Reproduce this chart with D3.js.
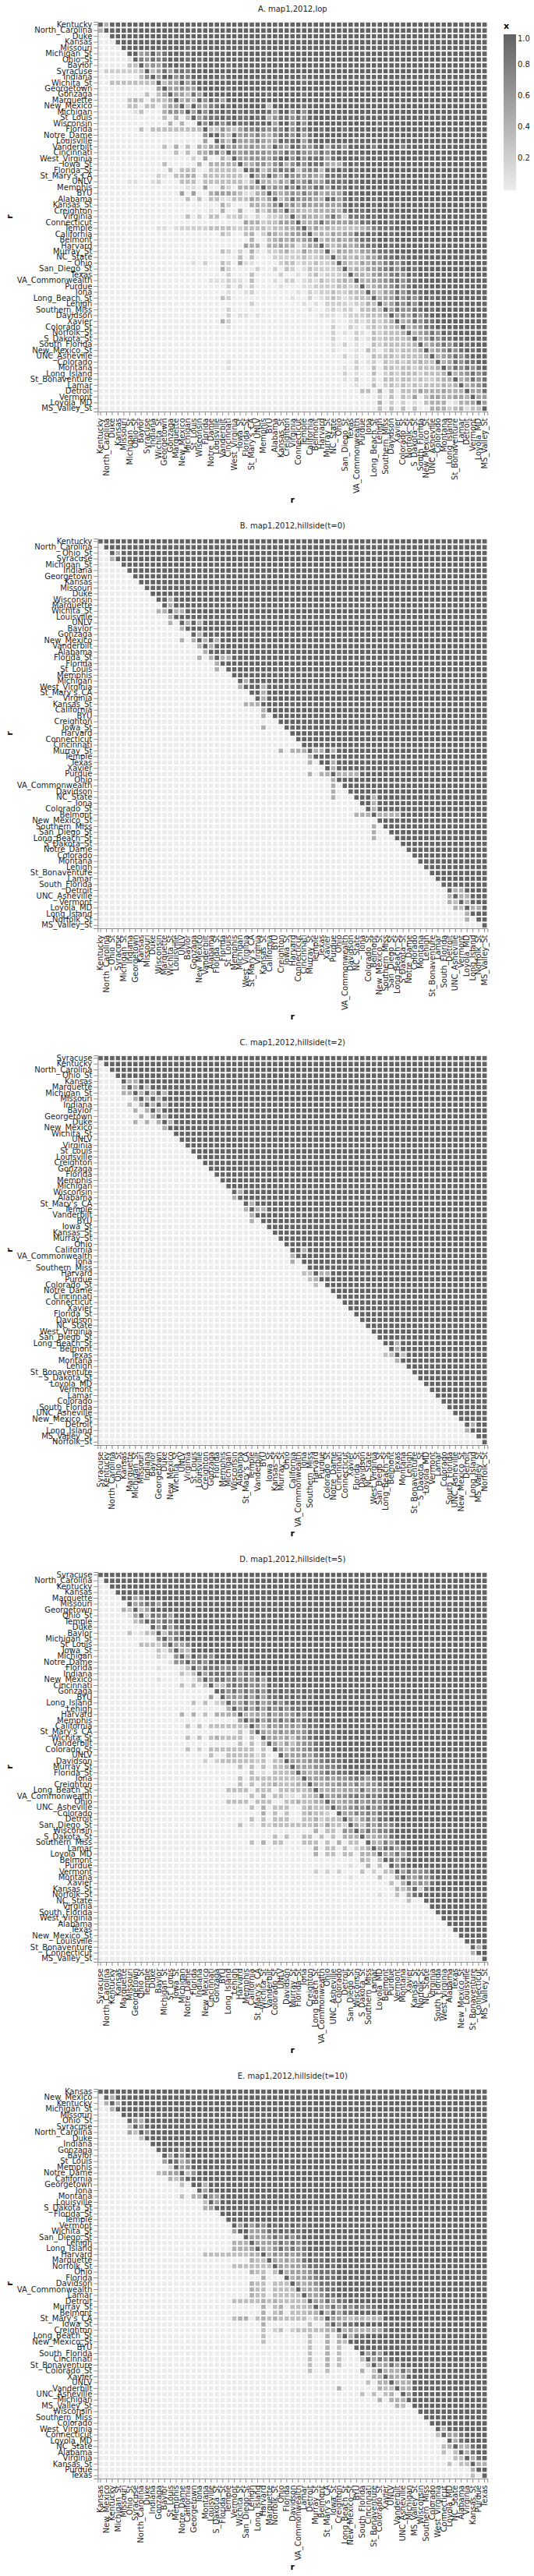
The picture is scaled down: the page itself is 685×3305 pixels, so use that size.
<!DOCTYPE html>
<html>
<head>
<meta charset="utf-8">
<script src="https://cdn.jsdelivr.net/npm/d3@7"></script>
<style>
  body { margin: 0; background: #fff; }
  svg { display: block; font-family: "DejaVu Sans", sans-serif; }
  text { opacity: 0.99; }
</style>
</head>
<body>
<div id="chart"></div>
<script>
// each row: one digit per column, 0 = x of 0.0 ... 9 = x of 1.0, grouped by ten columns
const titles = ["A. map1,2012,lop", "B. map1,2012,hillside(t=0)", "C. map1,2012,hillside(t=2)", "D. map1,2012,hillside(t=5)", "E. map1,2012,hillside(t=10)"];
const legendTicks = [0.2, 0.4, 0.6, 0.8, 1.0];

const teamsA = ["Kentucky","North_Carolina","Duke","Kansas","Missouri","Michigan_St","Ohio_St","Baylor","Syracuse","Indiana","Wichita_St","Georgetown","Gonzaga","Marquette","New_Mexico","Michigan","St_Louis","Wisconsin","Florida","Notre_Dame","Louisville","Vanderbilt","Cincinnati","West_Virginia","Iowa_St","Florida_St","St_Mary's_CA","UNLV","Memphis","BYU","Alabama","Kansas_St","Creighton","Virginia","Connecticut","Temple","California","Belmont","Harvard","Murray_St","NC_State","Ohio","San_Diego_St","Texas","VA_Commonwealth","Purdue","Iona","Long_Beach_St","Lehigh","Southern_Miss","Davidson","Xavier","Colorado_St","Norfolk_St","S_Dakota_St","South_Florida","New_Mexico_St","UNC_Asheville","Colorado","Montana","Long_Island","St_Bonaventure","Lamar","Detroit","Vermont","Loyola_MD","MS_Valley_St"];
const teamsB = ["Kentucky","North_Carolina","Ohio_St","Syracuse","Michigan_St","Indiana","Georgetown","Kansas","Missouri","Duke","Wisconsin","Marquette","Wichita_St","Louisville","UNLV","Baylor","Gonzaga","New_Mexico","Vanderbilt","Alabama","Florida_St","Florida","St_Louis","Memphis","Michigan","West_Virginia","St_Mary's_CA","Virginia","Kansas_St","California","BYU","Creighton","Iowa_St","Harvard","Connecticut","Cincinnati","Murray_St","Temple","Texas","Xavier","Purdue","Ohio","VA_Commonwealth","Davidson","NC_State","Iona","Colorado_St","Belmont","New_Mexico_St","Southern_Miss","San_Diego_St","Long_Beach_St","S_Dakota_St","Notre_Dame","Colorado","Montana","Lehigh","St_Bonaventure","Lamar","South_Florida","Detroit","UNC_Asheville","Vermont","Loyola_MD","Long_Island","Norfolk_St","MS_Valley_St"];
const teamsC = ["Syracuse","Kentucky","North_Carolina","Ohio_St","Kansas","Marquette","Michigan_St","Missouri","Indiana","Baylor","Georgetown","Duke","New_Mexico","Wichita_St","UNLV","Virginia","St_Louis","Louisville","Creighton","Gonzaga","Florida","Memphis","Michigan","Wisconsin","Alabama","St_Mary's_CA","Temple","Vanderbilt","BYU","Iowa_St","Kansas_St","Murray_St","Ohio","California","VA_Commonwealth","Iona","Southern_Miss","Harvard","Purdue","Colorado_St","Notre_Dame","Cincinnati","Connecticut","Xavier","Florida_St","Davidson","NC_State","West_Virginia","San_Diego_St","Long_Beach_St","Belmont","Texas","Montana","Lehigh","St_Bonaventure","S_Dakota_St","Loyola_MD","Vermont","Lamar","Colorado","South_Florida","UNC_Asheville","New_Mexico_St","Detroit","Long_Island","MS_Valley_St","Norfolk_St"];
const teamsD = ["Syracuse","North_Carolina","Kentucky","Kansas","Marquette","Missouri","Georgetown","Ohio_St","Temple","Duke","Baylor","Michigan_St","St_Louis","Iowa_St","Michigan","Notre_Dame","Florida","Indiana","New_Mexico","Cincinnati","Gonzaga","BYU","Long_Island","Lehigh","Harvard","Memphis","California","St_Mary's_CA","Wichita_St","Vanderbilt","Colorado_St","UNLV","Davidson","Murray_St","Florida_St","Iona","Creighton","Long_Beach_St","VA_Commonwealth","Ohio","UNC_Asheville","Colorado","Detroit","San_Diego_St","Wisconsin","S_Dakota_St","Southern_Miss","Lamar","Loyola_MD","Belmont","Purdue","Vermont","Montana","Xavier","Kansas_St","Norfolk_St","NC_State","Virginia","South_Florida","West_Virginia","Alabama","Texas","New_Mexico_St","Louisville","St_Bonaventure","Connecticut","MS_Valley_St"];
const teamsE = ["Kansas","New_Mexico","Kentucky","Michigan_St","Missouri","Ohio_St","Syracuse","North_Carolina","Duke","Indiana","Gonzaga","Baylor","St_Louis","Memphis","Notre_Dame","California","Georgetown","Iona","Montana","Louisville","S_Dakota_St","Florida_St","Temple","Vermont","Wichita_St","San_Diego_St","Lehigh","Long_Island","Harvard","Marquette","Norfolk_St","Ohio","Florida","Davidson","VA_Commonwealth","Lamar","Detroit","Murray_St","Belmont","St_Mary's_CA","Iowa_St","Creighton","Long_Beach_St","New_Mexico_St","BYU","South_Florida","Cincinnati","St_Bonaventure","Colorado_St","Xavier","UNLV","Vanderbilt","UNC_Asheville","Michigan","MS_Valley_St","Wisconsin","Southern_Miss","Colorado","West_Virginia","Connecticut","Loyola_MD","NC_State","Alabama","Virginia","Kansas_St","Purdue","Texas"];

const rowsA = [
"9499999999 9999999999 9999999999 9999999999 9999999999 9999999999 9999999",
"4999999999 9999999999 9999999999 9999999999 9999999999 9999999999 9999999",
"0099999999 9999999999 9999999999 9999999999 9999999999 9999999999 9999999",
"0009999999 9999999999 9999999999 9999999999 9999999999 9999999999 9999999",
"0000999999 9999989999 9999999999 9999999999 9999999999 9999999999 9999999",
"0000099569 6899989999 9999999999 9999999999 9999999999 9999999999 9999999",
"0000019768 7899989899 9999999999 9999999999 9999999999 9999999999 9999999",
"0000033956 5899899899 9989999999 9999999999 9999999999 9999999999 9999999",
"0222222393 5858879999 9999999999 9999999999 9999999999 9999999999 9999999",
"0000000369 5996879999 9899999999 9999989999 9999999999 9999999999 9999999",
"0033333333 9355958999 9999999999 9999989999 9999999999 9999999999 9999999",
"0000000000 5955655999 9989999999 9999999999 9999999999 9999999999 9999999",
"0000000030 3595538599 9999999998 9999989999 9999999999 9999999999 9999999",
"0000034303 3359453969 8599999999 9999999999 9999999999 9999999999 9999999",
"0000033033 0355939557 8989899993 9999989999 9999999999 9999999999 9999999",
"0000001300 0466595969 8989898998 5996969999 9999999999 9999999999 9999999",
"0000000000 0304039578 8989889894 6886869999 9999999999 9999999999 9999999",
"0000000000 0040400969 8689889899 5996969999 9999999989 9999999999 9999999",
"0000000303 3333333393 3643577876 7796979989 9989999999 9999999999 9999999",
"0000000000 0000000069 9539565754 6886958999 9999999999 9999999999 9999999",
"0000000000 0000000050 9539555754 5988958999 9999899999 9999999999 9999999",
"0000000000 0304030435 5956556554 9659866895 8869999799 9979999999 9999999",
"0000000000 0003030446 7496566665 6686866686 8989899999 9999999999 9999999",
"0000000000 0000002050 0429556665 7996968885 8999989999 9999999999 9999999",
"0000000000 0300000404 4444944664 6846868885 4489899999 9999999999 9999999",
"0000000000 0030333003 3333197735 6878367738 8989899999 9999999999 9999999",
"0000000000 2103344033 3333319559 6486656548 8889899999 9999999999 9999999",
"0000011001 2000333033 3333313944 3548568558 8889899999 9999999999 9999999",
"0000000000 0000011050 0420445495 6586966885 9889899999 9999999999 9999999",
"0000000000 0000505004 5554311449 5456575645 5589899999 9999999999 9999999",
"0000000000 0000030303 3113335435 9358666549 8589899899 9999999999 9999999",
"0000000000 0000000000 0420004434 6956465555 5589899899 9899999999 9999999",
"0000000000 0000000001 0400400424 5494433444 5489889899 9999999999 9999999",
"0000000000 0000030203 3022310202 2339354435 8528889899 8999999999 9999999",
"0000000000 0000000000 0000054423 3555944585 5556588999 8999999999 9999999",
"0000000000 1101222223 3332233332 3344694534 3333345788 8999999999 9999999",
"0000000000 0000000000 0320034025 4345569343 5455889899 8999999999 9999999",
"0000000000 0000000000 0000004003 4545456934 4545688899 8999999999 9999999",
"0000000000 0000000000 0000054404 4544135594 3454578899 8999999999 9999999",
"0000000000 0000000000 0320204102 2342253339 2544355788 8999999999 9999999",
"0000000000 0000000000 0000303000 2222232233 9343435578 8989999999 9999999",
"0000000000 0000001020 0320511000 0233122322 3943354657 8689899999 9999999",
"0000000000 0000000000 0420000200 2032013222 2393435567 8689899999 9999999",
"0000000000 0000000000 0020003000 0200102312 2239443565 7869899999 9999999",
"0000000000 0000000001 1121103000 1022012132 2343944556 7868899999 9999999",
"0000000000 0000000000 0020202000 0100011222 2332393455 6868989999 9999999",
"0000000000 0000000000 0010012000 0000102122 3223339435 5868889999 9999999",
"0000000000 0000000000 0320000000 0001002012 3212333945 5868689899 9999999",
"0000000000 0000000000 0000002000 0000010102 2221224394 5868698999 9999999",
"0000000000 0000000000 0020000000 0000001001 2122033439 5866889899 9999999",
"0000000000 0000000000 0020110100 0000000011 1012223334 9565868999 9999999",
"0000000000 0000000000 0420000000 0000000000 1001212323 4945868899 9999999",
"0000000000 0000000000 0010000000 0000000000 2002102323 3494568899 9999999",
"0000000000 0000000000 0000000000 0000000000 2010210323 3349456869 8999999",
"0000000000 0000000000 0000000000 0000000000 2000201323 3334945868 8989999",
"0000000000 0000000000 0000000000 0000000000 1020100323 3333494568 6898999",
"0000000000 0000000000 0000000000 0000000000 1000103202 3233349456 8689899",
"0000000000 0000000000 0000000000 0000000000 0020100323 3233334945 6868999",
"0000000000 0000000000 0010000000 0000000000 0000201203 2323343394 5868899",
"0000000000 0000000000 0010000000 0000000000 0010200303 3233233349 5868689",
"0000000000 0000000000 0000000000 0000000000 0020100302 3233323334 9456868",
"0000000000 0000000000 0000000000 0000000000 0010200203 3233232234 4945868",
"0000000000 0000000000 0000000000 0000000000 0000100302 3232323334 3494568",
"0000000000 0000000000 0000000000 0000000000 0000033040 3033354445 4449558",
"0000000000 0000000000 0000000000 0000000000 0000000020 3032503554 4554955",
"0000000000 0000000000 0000000000 0000000000 0000000040 2020103444 0144595",
"0000000000 0000000000 0000000000 0000000000 0000000030 3030300444 2341339"
];

const rowsB = [
"9999999999 9999999999 9999999999 9999999999 9999999999 9999999999 9999999",
"0999999999 9999999999 9999999999 9999999999 9999999999 9999999999 9999999",
"0094999999 9999999999 9999999999 9999999999 9999999999 9999999999 9999999",
"0049999999 9999999999 9999999999 9999999999 9999999999 9999999999 9999999",
"0000999999 9999999999 9999999999 9999999999 9999999999 9999999999 9999999",
"0000099999 9999999999 9999999999 9999999999 9999999999 9999999999 9999999",
"0000009999 9999999999 9999999999 9999999999 9999999999 9999999999 9999999",
"0000000999 9999999999 9999999999 9999999999 9999999999 9999999999 9999999",
"0000000099 9999999999 9999999999 9999999999 9999999999 9999999999 9999999",
"0000000009 9999999999 9999999999 9999999999 9999999999 9999999999 9999999",
"0000000000 9949999999 9999999999 9999999999 9999999999 9999999999 9999999",
"0000000000 0949999999 9999999999 9999999999 9999999999 9999999999 9999999",
"0000000000 4494499999 9999999999 9999999999 9999999999 9999999999 9999999",
"0000000000 0049999999 9999999999 9999999999 9999999999 9999999999 9999999",
"0000000000 0040949499 9999999999 9999999999 9999999999 9999999999 9999999",
"0000000000 0000499999 9999999999 9999999999 9999999999 9999999999 9999999",
"0000000000 0000009499 9999999999 9999999999 9999999999 9999999999 9999999",
"0000000000 0000404949 4999999999 9999999999 9999999999 9999999999 9999999",
"0000000000 0000000494 9999999999 9999999999 9999999999 9999999999 9999999",
"0000000000 0000000049 9999999999 9999999999 9999999999 9999999999 9999999",
"0000000000 0000000404 9449999999 9999999999 9999999999 9999999999 9999999",
"0000000000 0000000000 4999999999 9999999999 9999999999 9999999999 9999999",
"0000000000 0000000000 4099999999 9999999999 9999999999 9999999999 9999999",
"0000000000 0000000000 0009999999 9999999999 9999999999 9999999999 9999999",
"0000000000 0000000000 0000949999 9999999999 9999999999 9999999999 9999999",
"0000000000 0000000000 0000499949 9999999999 9999999999 9999999999 9999999",
"0000000000 0000000000 0000009949 9999999999 9999999999 9999999999 9999999",
"0000000000 0000000000 0000000949 9999999999 9999999999 9999999999 9999999",
"0000000000 0000000000 0000044499 9999999999 9999999999 9999999999 9999999",
"0000000000 0000000000 0000000049 9999999999 9999999999 9999999999 9999999",
"0000000000 0000000000 0000000040 9999999999 9999999999 9999999999 9999999",
"0000000000 0000000000 0000000000 0999999999 9999999999 9999999999 9999999",
"0000000000 0000000000 0000000040 0099999999 9999999999 9999999999 9999999",
"0000000000 0000000000 0000000000 0009999999 9999999999 9999999999 9999999",
"0000000000 0000000000 0000000000 0000999999 9999999999 9999999999 9999999",
"0000000000 0000000000 0000000000 0000099999 9999999999 9999999999 9999999",
"0000000000 0000000000 0000000000 0404449449 4999999999 9999999999 9999999",
"0000000000 0000000000 0000000000 0000004999 9999999999 9999999999 9999999",
"0000000000 0000000000 0000000000 0000004099 4999999999 9999999999 9999999",
"0000000000 0000000000 0000000000 0000000009 4999999999 9999999999 9999999",
"0000000000 0000000000 0000000000 0000004044 9444499999 9999999999 9999999",
"0000000000 0000000000 0000000000 0000000000 4999999999 9999999999 9999999",
"0000000000 0000000000 0000000000 0000000000 4099999999 9999999999 9999999",
"0000000000 0000000000 0000000000 0000000000 4009999999 9999999999 9999999",
"0000000000 0000000000 0000000000 0000000000 4000999499 9999999999 9999999",
"0000000000 0000000000 0000000000 0000000000 0000099499 9999999999 9999999",
"0000000000 0000000000 0000000000 0000000000 0000009499 9999999999 9999999",
"0000000000 0000000000 0000000000 0000000000 0000444944 4499999999 9999999",
"0000000000 0000000000 0000000000 0000000000 0000000099 9999999999 9999999",
"0000000000 0000000000 0000000000 0000000000 0000000409 9999999999 9999999",
"0000000000 0000000000 0000000000 0000000000 0000000400 9999999999 9999999",
"0000000000 0000000000 0000000000 0000000000 0000000400 0999999999 9999999",
"0000000000 0000000000 0000000000 0000000000 0000000000 0099999999 9999999",
"0000000000 0000000000 0000000000 0000000000 0000000000 0009999999 9999999",
"0000000000 0000000000 0000000000 0000000000 0000000000 0000999999 9999999",
"0000000000 0000000000 0000000000 0000000000 0000000000 0000099999 9999999",
"0000000000 0000000000 0000000000 0000000000 0000000000 0000009999 9999999",
"0000000000 0000000000 0000000000 0000000000 0000000000 0000000999 9999999",
"0000000000 0000000000 0000000000 0000000000 0000000000 0000000099 9999999",
"0000000000 0000000000 0000000000 0000000000 0000000000 0000000009 9999999",
"0000000000 0000000000 0000000000 0000000000 0000000000 0000000000 9449999",
"0000000000 0000000000 0000000000 0000000000 0000000000 0000000000 4944999",
"0000000000 0000000000 0000000000 0000000000 0000000000 0000000000 4394999",
"0000000000 0000000000 0000000000 0000000000 0000000000 0000000000 0439449",
"0000000000 0000000000 0000000000 0000000000 0000000000 0000000000 0004999",
"0000000000 0000000000 0000000000 0000000000 0000000000 0000000000 0004099",
"0000000000 0000000000 0000000000 0000000000 0000000000 0000000000 0000009"
];

const rowsC = [
"9999999999 9999999999 9999999999 9999999999 9999999999 9999999999 9999999",
"0999999999 9999999999 9999999999 9999999999 9999999999 9999999999 9999999",
"0099999999 9999999999 9999999999 9999999999 9999999999 9999999999 9999999",
"0009999999 9999999999 9999999999 9999999999 9999999999 9999999999 9999999",
"0000944999 9999999999 9999999999 9999999999 9999999999 9999999999 9999999",
"0000494949 9999999999 9999999999 9999999999 9999999999 9999999999 9999999",
"0000449494 9499999999 9999999999 9999999999 9999999999 9999999999 9999999",
"0000004949 4999999999 9999999999 9999999999 9999999999 9999999999 9999999",
"0000030494 9499999999 9999999999 9999999999 9999999999 9999999999 9999999",
"0000004049 4999999999 9999999999 9999999999 9999999999 9999999999 9999999",
"0000000404 9499999999 9999999999 9999999999 9999999999 9999999999 9999999",
"0000004040 4949999999 9999999999 9999999999 9999999999 9999999999 9999999",
"0000000000 0499999999 9999999999 9999999999 9999999999 9999999999 9999999",
"0000000000 0009999999 9999999999 9999999999 9999999999 9999999999 9999999",
"0000000000 0000999999 9999999999 9999999999 9999999999 9999999999 9999999",
"0000000000 0000099999 9999999999 9999999999 9999999999 9999999999 9999999",
"0000000000 0000009999 9999999999 9999999999 9999999999 9999999999 9999999",
"0000000000 0000000999 9999999999 9999999999 9999999999 9999999999 9999999",
"0000000000 0000000099 9999999999 9999999999 9999999999 9999999999 9999999",
"0000000000 0000000009 9999999999 9999999999 9999999999 9999999999 9999999",
"0000000000 0000000000 9999999999 9999999999 9999999999 9999999999 9999999",
"0000000000 0000000000 0999999999 9999999999 9999999999 9999999999 9999999",
"0000000000 0000000000 0099999999 9999999999 9999999999 9999999999 9999999",
"0000000000 0000000000 0009499999 9999999999 9999999999 9999999999 9999999",
"0000000000 0000000000 0004999999 9999999999 9999999999 9999999999 9999999",
"0000000000 0000000000 0000094999 9999999999 9999999999 9999999999 9999999",
"0000000000 0000000000 0000049449 9999999999 9999999999 9999999999 9999999",
"0000000000 0000000000 0000004999 9999999999 9999999999 9999999999 9999999",
"0000000000 0000000000 0000004099 9999999999 9999999999 9999999999 9999999",
"0000000000 0000000000 0000000009 9999999999 9999999999 9999999999 9999999",
"0000000000 0000000000 0000000000 9999999999 9999999999 9999999999 9999999",
"0000000000 0000000000 0000000000 0999999999 9999999999 9999999999 9999999",
"0000000000 0000000000 0000000000 0099999999 9999999999 9999999999 9999999",
"0000000000 0000000000 0000000000 0009949999 9999999999 9999999999 9999999",
"0000000000 0000000000 0000000000 0004999999 9999999999 9999999999 9999999",
"0000000000 0000000000 0000000000 0004099999 9999999999 9999999999 9999999",
"0000000000 0000000000 0000000000 0000009999 9999999999 9999999999 9999999",
"0000000000 0000000000 0000000000 0000033944 9999999999 9999999999 9999999",
"0000000000 0000000000 0000000000 0000003499 9999999999 9999999999 9999999",
"0000000000 0000000000 0000000000 0000000309 9999999999 9999999999 9999999",
"0000000000 0000000000 0000000000 0000000000 9999999999 9999999999 9999999",
"0000000000 0000000000 0000000000 0000000000 0999999999 9999999999 9999999",
"0000000000 0000000000 0000000000 0000000000 0099999999 9999999999 9999999",
"0000000000 0000000000 0000000000 0000000000 0009999999 9999999999 9999999",
"0000000000 0000000000 0000000000 0000000000 0000999999 9999999999 9999999",
"0000000000 0000000000 0000000000 0000000000 0000099999 9999999999 9999999",
"0000000000 0000000000 0000000000 0000000000 0000009999 9999999999 9999999",
"0000000000 0000000000 0000000000 0000000000 0000000999 9999999999 9999999",
"0000000000 0000000000 0000000000 0000000000 0000000099 9999999999 9999999",
"0000000000 0000000000 0000000000 0000000000 0000000009 9499999999 9999999",
"0000000000 0000000000 0000000000 0000000000 0000000000 9499999999 9999999",
"0000000000 0000000000 0000000000 0000000000 0000000003 3939999999 9999999",
"0000000000 0000000000 0000000000 0000000000 0000000000 0499999999 9999999",
"0000000000 0000000000 0000000000 0000000000 0000000000 0009999999 9999999",
"0000000000 0000000000 0000000000 0000000000 0000000000 0000999999 9999999",
"0000000000 0000000000 0000000000 0000000000 0000000000 0000099999 9999999",
"0000000000 0000000000 0000000000 0000000000 0000000000 0000009999 9999999",
"0000000000 0000000000 0000000000 0000000000 0000000000 0000000999 9999999",
"0000000000 0000000000 0000000000 0000000000 0000000000 0000000099 9999999",
"0000000000 0000000000 0000000000 0000000000 0000000000 0000000009 9999999",
"0000000000 0000000000 0000000000 0000000000 0000000000 0000000000 9999999",
"0000000000 0000000000 0000000000 0000000000 0000000000 0000000000 0999999",
"0000000000 0000000000 0000000000 0000000000 0000000000 0000000000 0099999",
"0000000000 0000000000 0000000000 0000000000 0000000000 0000000000 0009499",
"0000000000 0000000000 0000000000 0000000000 0000000000 0000000000 0004999",
"0000000000 0000000000 0000000000 0000000000 0000000000 0000000000 0000099",
"0000000000 0000000000 0000000000 0000000000 0000000000 0000000000 0000009"
];

const rowsD = [
"9999999999 9999999999 9999999999 9999999999 9999999999 9999999999 9999999",
"0999999999 9999999999 9999999999 9999999999 9999999999 9999999999 9999999",
"0099999999 9999999999 9999999999 9999999999 9999999999 9999999999 9999999",
"0009999999 9999999999 9999999999 9999999999 9999999999 9999999999 9999999",
"0000995699 9999999999 9999999999 9999999999 9999999999 9999999999 9999999",
"0000095688 5999999999 9999999999 9999999999 9999999999 9999999999 9999999",
"0000439359 9999999999 9999999999 9999999999 9999999999 9999999999 9999999",
"0000015938 7859999999 9999999999 9999999999 9999999999 9999999999 9999999",
"0000003598 6879999999 9999999999 9999999999 9999999999 9999999999 9999999",
"0000000009 5958999999 9999999999 9999999999 9999999999 9999999999 9999999",
"0000030133 9377899999 9999999999 9999999999 9999999999 9999999999 9999999",
"0000000000 6958999999 9999999999 9999999999 9999999999 9999999999 9999999",
"0000000333 2595579999 9999999999 9999999999 9999999999 9999999999 9999999",
"0000000000 3149439999 9999999999 9999999999 9999999999 9999999999 9999999",
"0000000000 2106949786 9999999999 9999999999 9999999999 9999999999 9999999",
"0000000000 0016696869 9999999999 9999999999 9999999999 9999999999 9999999",
"0000000000 1000139588 8668599999 9999999999 9999999999 9999999999 9999999",
"0000000000 0000313958 8888686999 9999999999 9999999999 9999999999 9999999",
"0000000000 1000001496 8868686859 9999999999 9999999999 9999999999 9999999",
"0000000000 0000303039 3378786759 8989899999 9999999999 9999999999 9999999",
"0000000000 0000000000 9868686869 8989898999 9999999999 9999999999 9999999",
"0000000000 0000000005 0956585858 8989898999 9999999999 9999999999 9999999",
"0000000000 0000003030 2395585856 8689889999 9999999999 9999999999 9999999",
"0000000000 0000000000 0049585858 6868898999 9999999999 9999999999 9999999",
"0000000000 0000404030 4444944547 5656868899 8999999999 9999999999 9999999",
"0000000000 0000000000 0000596857 6868689899 9999999999 9999999999 9999999",
"0000000000 0000030303 3333339536 5656578899 8999999999 9999999999 9999999",
"0000000000 0000000000 0000304954 5656568889 8999999999 9999999999 9999999",
"0000000000 0000030303 4333303095 5453668999 8999999999 9999999999 9999999",
"0000000000 0000000000 0000303039 5353566889 8999999999 9999999999 9999999",
"0000000000 0000030203 3333333030 9535567899 8999999999 9999999999 9999999",
"0000000000 0000000003 0033333130 0955565788 8999999999 9999999999 9999999",
"0000000000 0000000020 2333333230 3395556678 8899999999 9999999999 9999999",
"0000000000 0000000000 0000303030 3349555667 7899999999 9999999999 9999999",
"0000000000 0000000000 0000003010 3334954568 7889999999 9999999999 9999999",
"0000000000 0000000000 0000303333 3333395556 5667875899 9999999999 9999999",
"0000000000 0000000000 0000303033 4333449545 5665756688 9999999999 9999999",
"0000000000 0000000000 0033330333 0333334944 5455585668 9999999999 9999999",
"0000000000 0000000000 0000003040 3311033495 5667868789 9999999999 9999999",
"0000000000 0000000000 0033330333 0033433449 5455756768 9999999999 9999999",
"0000000000 0000000000 0000003040 3330034334 9556768678 9999999999 9999999",
"0000000000 0000000000 0000000040 3030034332 0955767688 9999999999 9999999",
"0000000000 0000000000 0000003030 3330033423 3395357588 9999999999 9999999",
"0000000000 0000000000 0000301032 3333333425 3329537576 7999999999 9999999",
"0000000000 0000000000 0000000000 0000000403 3065958577 8999999999 9999999",
"0000000000 0000000000 0000000000 3030033030 3044494455 8999999999 9999999",
"0000000000 0000000000 0000003040 3300033303 0403309447 5899999999 9999999",
"0000000000 0000000000 0000000000 0000000403 3030234958 8589999999 9999999",
"0000000000 0000000000 0000000000 0000000403 3033044495 5858999999 9999999",
"0000000000 0000000000 0000000000 0000000000 0000043039 8589999999 9999999",
"0000000000 0000000000 0000000000 0000000000 0001004030 9689999999 9999999",
"0000000000 0000000000 0000000000 0000000202 0200030203 3958667999 9999999",
"0000000000 0000000000 0000000000 0000000000 0001000030 0596576899 9999999",
"0000000000 0000000000 0000000000 0000000000 0000000000 3049565899 9999999",
"0000000000 0000000000 0000000000 0000000000 0000000000 0435928999 9999999",
"0000000000 0000000000 0000000000 0000000000 0000000010 0305899999 9999999",
"0000000000 0000000000 0000000000 0000000000 0000000000 0003009999 9999999",
"0000000000 0000000000 0000000000 0000000000 0000000000 0000000999 9999999",
"0000000000 0000000000 0000000000 0000000000 0000000000 0000000099 9999999",
"0000000000 0000000000 0000000000 0000000000 0000000000 0000000009 9999999",
"0000000000 0000000000 0000000000 0000000000 0000000000 0000000000 9999999",
"0000000000 0000000000 0000000000 0000000000 0000000000 0000000000 0999999",
"0000000000 0000000000 0000000000 0000000000 0000000000 0000000000 0099999",
"0000000000 0000000000 0000000000 0000000000 0000000000 0000000000 0009999",
"0000000000 0000000000 0000000000 0000000000 0000000000 0000000000 0000949",
"0000000000 0000000000 0000000000 0000000000 0000000000 0000000000 0000499",
"0000000000 0000000000 0000000000 0000000000 0000000000 0000000000 0000009"
];

const rowsE = [
"9999999999 9999999999 9999999999 9999999999 9999999999 9999999999 9999999",
"0949999999 9999999999 9999999999 9999999999 9999999999 9999999999 9999999",
"0494999999 9999999999 9999999999 9999999999 9999999999 9999999999 9999999",
"0049999999 9999999999 9999999999 9999999999 9999999999 9999999999 9999999",
"0000999999 9999999999 9999999999 9999999999 9999999999 9999999999 9999999",
"0000096499 9999999999 9999999999 9999999999 9999999999 9999999999 9999999",
"0000039699 9999999999 9999999999 9999999999 9999999999 9999999999 9999999",
"0000053969 9999999999 9999999999 9999999999 9999999999 9999999999 9999999",
"0000000399 9999999999 9999999999 9999999999 9999999999 9999999999 9999999",
"0000000009 9999999999 9999999999 9999999999 9999999999 9999999999 9999999",
"0000000000 9999699999 9999999999 9999999999 9999999999 9999999999 9999999",
"0000000000 0959699999 9999999999 9999999999 9999999999 9999999999 9999999",
"0000000000 0598469999 9999999999 9999999999 9999999999 9999999999 9999999",
"0000000000 0029569999 9999999999 9999999999 9999999999 9999999999 9999999",
"0000000000 3455936999 9999999999 9999999999 9999999999 9999999999 9999999",
"0000000000 0043699999 9999999999 9999999999 9999999999 9999999999 9999999",
"0000000000 0000309949 9999999999 9999999999 9999999999 9999999999 9999999",
"0000000000 0000000959 9999999999 9999999999 9999999999 9999999999 9999999",
"0000000000 0000304496 5999999999 9999999999 9999999999 9999999999 9999999",
"0000000000 0000000039 5999999999 9999999999 9999999999 9999999999 9999999",
"0000000000 0000000045 9999999999 9999999999 9999999999 9999999999 9999999",
"0000000000 0000000000 0999999999 9999999999 9999999999 9999999999 9999999",
"0000000000 0000000000 0099999999 9999999999 9999999999 9999999999 9999999",
"0000000000 0000000000 0009595869 8989889999 9999999999 9999999999 9999999",
"0000000000 0000000000 0005995568 8989899999 9999999999 9999999999 9999999",
"0000000000 0000000000 0000095556 8686899999 9999999999 9999999999 9999999",
"0000000000 0000000000 0004449555 6868689999 8999999999 9999999999 9999999",
"0000000000 0000000000 0004445954 6868689999 8999999999 9999999999 9999999",
"0000000000 0000000033 3333334494 6565679889 8999999999 9999999999 9999999",
"0000000000 0000000000 0000004339 5454589889 8999999999 9999999999 9999999",
"0000000000 0000000000 0003333333 9545568889 8999999999 9999999999 9999999",
"0000000000 0000000000 0000004330 3945556888 8999999999 9999999999 9999999",
"0000000000 0000000000 0000000040 0094556788 8999999999 9999999999 9999999",
"0000000000 0000000000 0000004330 3339545688 8999999999 9999999999 9999999",
"0000000000 0000000000 0000004330 3333945578 8999999999 9999999999 9999999",
"0000000000 0000000000 0000004330 3333395568 8999999999 9999999999 9999999",
"0000000000 0000000000 0003333343 4333339558 5889999999 9999999999 9999999",
"0000000000 0000000000 0000000040 3403334945 8586877899 9999999999 9999999",
"0000000000 0000000000 0000000040 3403334494 8588999999 9999999999 9999999",
"0000000000 0000000000 0003440343 4333331339 5543443449 9999999999 9999999",
"0000000000 0000000000 0000000040 0000003005 9588999999 9999999999 9999999",
"0000000000 0000000000 0000000030 2302333334 4945444558 9999999999 9999999",
"0000000000 0000000000 0000000030 0000003004 0494889999 9999999999 9999999",
"0000000000 0000000000 0000000030 0000003004 0439999999 9999999999 9999999",
"0000000000 0000000000 0000000000 0000003004 0300999999 9999999999 9999999",
"0000000000 0000000000 0000000000 0000003004 0300095859 9999999999 9999999",
"0000000000 0000000000 0000000000 0000003004 0300039586 9999999999 9999999",
"0000000000 0000000000 0000000000 0000003004 0300003945 8599999999 9999999",
"0000000000 0000000000 0000000000 0000003003 0000040394 4485999999 9999999",
"0000000000 0000000000 0000000000 0000000000 0000000449 5459999999 9999999",
"0000000000 0000000000 0000000000 0000000000 0000003044 9444999999 9999999",
"0000000000 0000000000 0000000000 0000000000 0400000043 3944999999 9999999",
"0000000000 0000000000 0000000000 0000000000 0000030303 4095999999 9999999",
"0000000000 0000000000 0000000000 0000000000 0000000040 4449999999 9999999",
"0000000000 0000000000 0000000000 0000000000 0000000000 0430999999 9999999",
"0000000000 0000000000 0000000000 0000000000 0000000000 0000099999 9999999",
"0000000000 0000000000 0000000000 0000000000 0000000000 0000009999 9999999",
"0000000000 0000000000 0000000000 0000000000 0000000000 0000000999 9999999",
"0000000000 0000000000 0000000000 0000000000 0000000000 0000000094 9999999",
"0000000000 0000000000 0000000000 0000000000 0000000000 0000000039 5589999",
"0000000000 0000000000 0000000000 0000000000 0000000000 0000000000 9489999",
"0000000000 0000000000 0000000000 0000000000 0000000000 0000000003 4944899",
"0000000000 0000000000 0000000000 0000000000 0000000000 0000000003 0394899",
"0000000000 0000000000 0000000000 0000000000 0000000000 0000000000 0339489",
"0000000000 0000000000 0000000000 0000000000 0000000000 0000000000 3033944",
"0000000000 0000000000 0000000000 0000000000 0000000000 0000000000 0000499",
"0000000000 0000000000 0000000000 0000000000 0000000000 0000000000 0000309"
];

const width = 685, height = 3305;
const plotLeft = 125.3, plotTop = 28, plotSize = 500, panelStep = 663;

const svg = d3.select("#chart").append("svg")
    .attr("width", width)
    .attr("height", height);

const color = d3.scaleLinear().domain([0, 1]).range(["#ececec", "#636363"]);

function drawPanel(index, teams, rows) {
    let top = plotTop + index * panelStep;

    let x = d3.scaleBand().domain(teams).range([0, plotSize]);
    let y = d3.scaleBand().domain(teams).range([0, plotSize]);

    let cells = [];
    rows.forEach((row, i) => {
        row.replace(/ /g, "").split("").forEach((digit, j) => {
            cells.push({ r: teams[i], c: teams[j], x: +digit / 9 });
        });
    });

    let g = svg.append("g")
        .attr("transform", "translate(" + plotLeft + "," + top + ")");

    g.append("rect")
        .attr("width", plotSize)
        .attr("height", plotSize)
        .attr("fill", "none")
        .attr("stroke", "#ddd");

    g.selectAll("rect.cell")
        .data(cells)
        .enter().append("rect")
        .attr("class", "cell")
        .attr("x", d => x(d.c))
        .attr("y", d => y(d.r))
        .attr("width", x.bandwidth())
        .attr("height", y.bandwidth())
        .attr("fill", d => color(d.x))
        .attr("stroke", "#fff")
        .attr("stroke-width", 1.7);

    let yAxis = g.append("g").call(d3.axisLeft(y).tickSize(5).tickPadding(2));
    let xAxis = g.append("g")
        .attr("transform", "translate(0," + plotSize + ")")
        .call(d3.axisBottom(x).tickSize(5).tickPadding(2));

    xAxis.selectAll("text")
        .attr("transform", "rotate(-90)")
        .attr("text-anchor", "end")
        .attr("x", -8.5)
        .attr("y", 0)
        .attr("dy", "0.32em");

    [xAxis, yAxis].forEach(axis => {
        axis.selectAll("path, line").attr("stroke", "#888");
        axis.selectAll("text")
            .attr("fill", "#222")
            .style("font-size", "10px")
            .style("font-family", "'DejaVu Sans'");
    });

    g.append("text")
        .attr("x", plotSize / 2)
        .attr("y", -13.3)
        .attr("text-anchor", "middle")
        .attr("fill", "#222")
        .style("font-size", "10px")
        .text(titles[index]);

    g.append("text")
        .attr("x", plotSize / 2)
        .attr("y", plotSize + 116.5)
        .attr("text-anchor", "middle")
        .attr("fill", "#000")
        .style("font-size", "11px")
        .style("font-weight", "bold")
        .text("r");

    g.append("text")
        .attr("transform", "translate(" + (16 - plotLeft) + "," + (plotSize / 2) + ") rotate(-90)")
        .attr("text-anchor", "middle")
        .attr("fill", "#000")
        .style("font-size", "11px")
        .style("font-weight", "bold")
        .text("r");
}

drawPanel(0, teamsA, rowsA);
drawPanel(1, teamsB, rowsB);
drawPanel(2, teamsC, rowsC);
drawPanel(3, teamsD, rowsD);
drawPanel(4, teamsE, rowsE);

// legend, only beside the first panel
let defs = svg.append("defs");
let gradient = defs.append("linearGradient")
    .attr("id", "legend-gradient")
    .attr("x1", 0).attr("y1", 1)
    .attr("x2", 0).attr("y2", 0);
gradient.append("stop").attr("offset", "0%").attr("stop-color", color(0));
gradient.append("stop").attr("offset", "100%").attr("stop-color", color(1));

let legendY = d3.scaleLinear().domain([0, 1]).range([200, 0]);
let legend = svg.append("g").attr("transform", "translate(646,44)");

legend.append("rect")
    .attr("width", 16)
    .attr("height", 200)
    .attr("fill", "url(#legend-gradient)");

legend.append("text")
    .attr("x", 0)
    .attr("y", -7)
    .attr("fill", "#000")
    .style("font-size", "11px")
    .style("font-weight", "bold")
    .text("x");

let legendAxis = legend.append("g")
    .attr("transform", "translate(16,0)")
    .call(d3.axisRight(legendY).tickValues(legendTicks).tickSize(0).tickPadding(2).tickFormat(d3.format(".1f")));
legendAxis.select(".domain").remove();
legendAxis.selectAll("text")
    .attr("fill", "#222")
    .style("font-size", "10px")
    .style("font-family", "'DejaVu Sans'")
    .attr("dy", d => d === 1 ? "0.85em" : "0.15em");
</script>
</body>
</html>
